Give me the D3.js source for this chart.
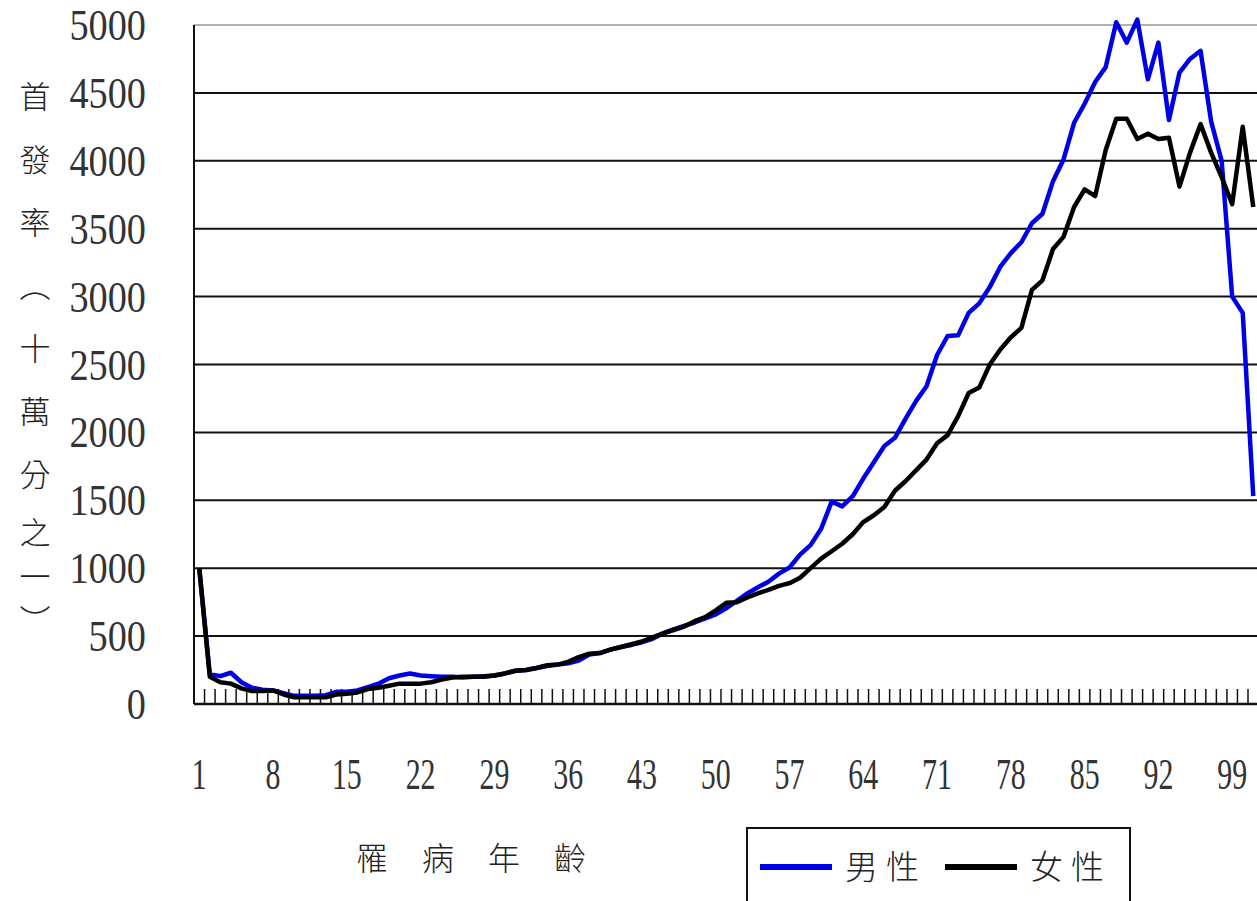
<!DOCTYPE html>
<html>
<head>
<meta charset="utf-8">
<script src="https://cdn.jsdelivr.net/npm/d3@7"></script>
<style>
  body { margin: 0; background: #fff; }
  svg { display: block; }
  .num { font-family: "Liberation Serif", "DejaVu Serif", serif; fill: #333; }
  .cjk { font-family: "Noto Sans CJK TC", "Noto Sans CJK SC", sans-serif; fill: #222; font-weight: 300; }
</style>
</head>
<body>
<svg id="chart" width="1257" height="901"></svg>
<script>
// ages 1..101 (categories)
var ages = d3.range(1, 102);

var male = [1000, 220, 205, 230, 160, 120, 105, 100, 80, 60,
    60, 60, 65, 90, 90, 100, 125, 150, 190, 210,
    225, 210, 205, 200, 200, 195, 200, 205, 210, 225,
    245, 250, 265, 280, 290, 300, 320, 365, 375, 400,
    420, 435, 455, 480, 520, 550, 575, 600, 630, 660,
    705, 760, 815, 860, 900, 960, 1005, 1100, 1170, 1290,
    1490, 1455, 1530, 1660, 1780, 1900, 1960, 2100, 2230, 2340,
    2570, 2710, 2715, 2880, 2950, 3070, 3220, 3320, 3400, 3540,
    3610, 3850, 4010, 4280, 4420, 4580, 4690, 5020, 4870, 5040,
    4600, 4870, 4300, 4650, 4750, 4810, 4290, 4000, 3000, 2880,
    1530];

var female = [1000, 200, 160, 150, 115, 95, 95, 100, 70, 50,
    50, 50, 50, 70, 75, 85, 110, 120, 135, 150,
    150, 150, 160, 180, 195, 200, 200, 200, 210, 225,
    245, 250, 265, 285, 290, 310, 345, 370, 375, 400,
    420, 440, 460, 490, 520, 545, 570, 610, 640, 690,
    745, 750, 785, 815, 840, 870, 890, 930, 1000, 1070,
    1125, 1180, 1250, 1340, 1390, 1450, 1570, 1640, 1720, 1800,
    1920, 1980, 2120, 2290, 2330, 2500, 2610, 2700, 2770, 3050,
    3120, 3350, 3440, 3660, 3790, 3740, 4080, 4310, 4310, 4160,
    4200, 4160, 4170, 3810, 4060, 4270, 4060, 3880, 3680, 4250,
    3660];

var yTicks = [0, 500, 1000, 1500, 2000, 2500, 3000, 3500, 4000, 4500, 5000];
var xLabels = [1, 8, 15, 22, 29, 36, 43, 50, 57, 64, 71, 78, 85, 92, 99];
var yTitle = ["首", "發", "率", "︵", "十", "萬", "分", "之", "一", "︶"];
var xTitle = ["罹", "病", "年", "齡"];
var seriesNames = ["男性", "女性"];
var seriesColors = ["#0000e6", "#000000"];

var svg = d3.select("#chart");
svg.append("rect").attr("width", 1257).attr("height", 901).attr("fill", "#fff");

var plotLeft = 194, plotTop = 25, plotBottom = 704, step = 10.54;

var x = d3.scaleBand()
    .domain(ages)
    .range([plotLeft, plotLeft + ages.length * step]);

var y = d3.scaleLinear()
    .domain([0, 5000])
    .range([plotBottom, plotTop]);

// grid lines
svg.append("g")
    .selectAll("line")
    .data(yTicks.slice(1))
    .enter()
    .append("line")
    .attr("x1", plotLeft)
    .attr("x2", 1257)
    .attr("y1", function (d) { return y(d); })
    .attr("y2", function (d) { return y(d); })
    .attr("stroke", function (d) { return d == 5000 ? "#999" : "#111"; })
    .attr("stroke-width", function (d) { return d == 5000 ? 1.5 : 2; });

// y labels
svg.append("g")
    .selectAll("text")
    .data(yTicks)
    .enter()
    .append("text")
    .attr("class", "num")
    .attr("transform", function (d) { return "translate(146," + (y(d) + 15) + ") scale(0.87,1)"; })
    .attr("text-anchor", "end")
    .style("font-size", "44px")
    .text(function (d) { return d; });

// x axis with inner ticks between categories
var ticks = ages.map(function (a) { return x(a); });
svg.append("g")
    .selectAll("line")
    .data(ticks.slice(1))
    .enter()
    .append("line")
    .attr("x1", function (d) { return d; })
    .attr("x2", function (d) { return d; })
    .attr("y1", plotBottom - 15)
    .attr("y2", plotBottom)
    .attr("stroke", "#111")
    .attr("stroke-width", 1.5);

svg.append("line")
    .attr("x1", plotLeft).attr("x2", 1257)
    .attr("y1", plotBottom).attr("y2", plotBottom)
    .attr("stroke", "#111").attr("stroke-width", 2.5);

svg.append("line")
    .attr("x1", plotLeft).attr("x2", plotLeft)
    .attr("y1", plotTop).attr("y2", plotBottom)
    .attr("stroke", "#111").attr("stroke-width", 2);

svg.append("g")
    .selectAll("text")
    .data(xLabels)
    .enter()
    .append("text")
    .attr("class", "num")
    .attr("transform", function (d) { return "translate(" + (x(d) + x.bandwidth() / 2) + ",789) scale(0.68,1)"; })
    .attr("text-anchor", "middle")
    .style("font-size", "44px")
    .text(function (d) { return d; });

// lines
var line = d3.line()
    .x(function (d, i) { return x(ages[i]) + x.bandwidth() / 2; })
    .y(function (d) { return y(d); });

[male, female].forEach(function (s, k) {
    svg.append("path")
        .datum(s)
        .attr("fill", "none")
        .attr("stroke", seriesColors[k])
        .attr("stroke-width", 4.5)
        .attr("stroke-linejoin", "round")
        .attr("d", line);
});

// y title, vertical (the last three glyphs sit tighter)
var ty = 97;
var yTitlePos = yTitle.map(function (c, i) {
    if (i > 0) ty += (c == "一" || c == "︶") ? 44 : (c == "之" ? 58 : 63);
    return ty;
});
svg.append("g")
    .selectAll("text")
    .data(yTitle)
    .enter()
    .append("text")
    .attr("class", "cjk")
    .attr("x", 35)
    .attr("y", function (d, i) { return yTitlePos[i] + 11; })
    .attr("text-anchor", "middle")
    .style("font-size", "31px")
    .text(function (d) { return d; });

// x title
svg.append("g")
    .selectAll("text")
    .data(xTitle)
    .enter()
    .append("text")
    .attr("class", "cjk")
    .attr("x", function (d, i) { return 372 + i * 66; })
    .attr("y", 870)
    .attr("text-anchor", "middle")
    .style("font-size", "32px")
    .text(function (d) { return d; });

// legend
var lg = svg.append("g");
lg.append("rect")
    .attr("x", 747).attr("y", 828)
    .attr("width", 383).attr("height", 90)
    .attr("fill", "#fff").attr("stroke", "#111").attr("stroke-width", 2);

var itemX = [760, 945];
seriesNames.forEach(function (n, k) {
    lg.append("line")
        .attr("x1", itemX[k]).attr("x2", itemX[k] + 72)
        .attr("y1", 867).attr("y2", 867)
        .attr("stroke", seriesColors[k]).attr("stroke-width", 6);
    lg.append("text")
        .attr("class", "cjk")
        .attr("x", itemX[k] + 85)
        .attr("y", 879)
        .style("font-size", "33px")
        .style("letter-spacing", "8px")
        .text(n);
});
</script>
</body>
</html>
